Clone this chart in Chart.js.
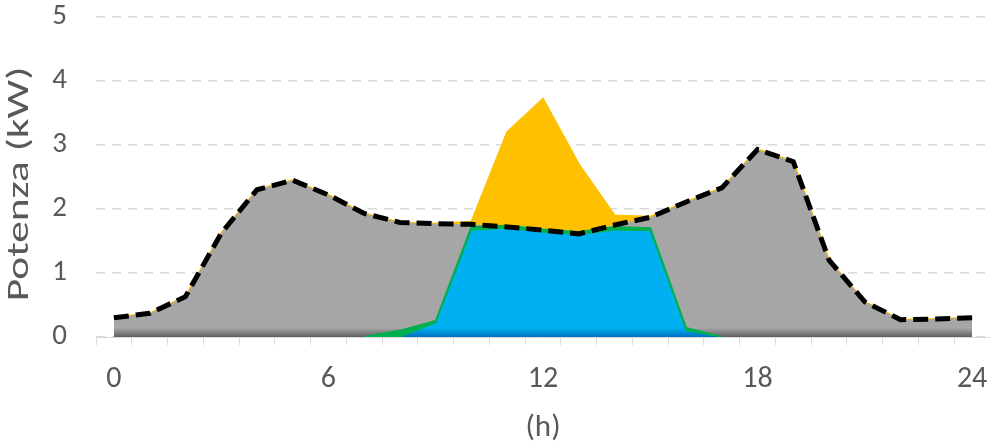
<!DOCTYPE html>
<html>
<head>
<meta charset="utf-8">
<script src="https://cdn.jsdelivr.net/npm/chart.js@4/dist/chart.umd.min.js"></script>
<style>
  html, body { margin: 0; padding: 0; background: #fff; }
  #wrap { width: 990px; height: 442px; }
</style>
</head>
<body>
<div id="wrap"><canvas id="powerChart" width="990" height="442"></canvas></div>
<script>
// Ore del giorno e curve di potenza (kW)
const hours = ['0','1','2','3','4','5','6','7','8','9','10','11','12','13','14','15','16','17','18','19','20','21','22','23','24'];
const load = [0.3, 0.37, 0.63, 1.62, 2.3, 2.45, 2.22, 1.93, 1.79, 1.77, 1.76, 1.72, 1.67, 1.61, 1.75, 1.87, 2.11, 2.33, 2.93, 2.74, 1.2, 0.55, 0.27, 0.28, 0.3];
const pvExcess = [0.3, 0.37, 0.63, 1.62, 2.3, 2.45, 2.22, 1.93, 1.79, 1.77, 1.8, 3.2, 3.72, 2.7, 1.9, 1.88, 2.11, 2.33, 2.93, 2.74, 1.2, 0.55, 0.27, 0.28, 0.3];
const pvEdge = [null, null, null, null, null, null, null, 0, 0.1, 0.25, 1.72, 1.74, 1.68, 1.64, 1.72, 1.7, 0.14, 0, null, null, null, null, null, null, null];
const selfUse = [null, null, null, null, null, null, null, null, 0, 0.22, 1.67, 1.7, 1.64, 1.6, 1.67, 1.66, 0.1, 0, null, null, null, null, null, null, null];
const yTicks = [0, 1, 2, 3, 4, 5];
const yTitle = 'Potenza (kW)';
const xTitle = '(h)';

const textColor = '#595959';
const fontFamily = "Calibri, Carlito, Lato, sans-serif";

function bottomShade(top, dark) {
  return (context) => {
    const area = context.chart.chartArea;
    if (!area) return top;
    const g = context.chart.ctx.createLinearGradient(0, area.bottom - 9, 0, area.bottom);
    g.addColorStop(0, top);
    g.addColorStop(1, dark);
    return g;
  };
}

// titolo asse Y un po' allungato come nell'originale
const yTitlePlugin = {
  id: 'yTitle',
  afterDraw(chart) {
    const { ctx, chartArea } = chart;
    ctx.save();
    ctx.translate(20, (chartArea.top + chartArea.bottom) / 2 + 7);
    ctx.rotate(-Math.PI / 2);
    ctx.scale(1.4, 1);
    ctx.font = `31px ${fontFamily}`;
    ctx.fillStyle = textColor;
    ctx.textAlign = 'center';
    ctx.textBaseline = 'middle';
    ctx.fillText(yTitle, 0, 0);
    ctx.restore();
  }
};

new Chart(document.getElementById('powerChart'), {
  type: 'line',
  data: {
    labels: hours,
    datasets: [
      {
        label: 'Carico',
        data: load,
        borderColor: '#000000',
        borderWidth: 5,
        borderDash: [15, 7],
        pointRadius: 0,
        fill: false,
        tension: 0,
      },
      {
        label: 'Autoconsumo',
        data: selfUse,
        borderColor: '#00b050',
        borderWidth: 1,
        backgroundColor: bottomShade('#00b0f0', '#0070c0'),
        pointRadius: 0,
        fill: 'origin',
        tension: 0,
      },
      {
        label: 'FV',
        data: pvEdge,
        borderColor: '#00b050',
        borderWidth: 2,
        backgroundColor: '#00b050',
        pointRadius: 0,
        fill: 'origin',
        tension: 0,
      },
      {
        label: 'Prelievo',
        data: load,
        borderWidth: 0,
        backgroundColor: bottomShade('#a6a6a6', '#5f5f5f'),
        pointRadius: 0,
        fill: 'origin',
        tension: 0,
      },
      {
        label: 'Immissione',
        data: pvExcess,
        borderColor: '#ffc000',
        borderWidth: 2,
        backgroundColor: '#ffc000',
        pointRadius: 0,
        fill: 'origin',
        tension: 0,
      },
    ]
  },
  options: {
    responsive: false,
    animation: false,
    layout: { padding: 0 },
    plugins: { legend: { display: false }, tooltip: { enabled: false } },
    scales: {
      x: {
        type: 'category',
        offset: true,
        grid: { offset: true, drawOnChartArea: false, drawTicks: true, tickLength: 8, tickColor: '#d9d9d9' },
        border: { display: true, color: '#d9d9d9', width: 1 },
        ticks: {
          autoSkip: false,
          maxRotation: 0,
          padding: 16,
          color: textColor,
          font: { family: fontFamily, size: 30 },
          callback(value, index) {
            return index % 6 === 0 ? hours[index] : '';
          }
        },
        title: { display: true, text: xTitle, color: textColor, font: { family: fontFamily, size: 31 }, padding: { top: 0, bottom: -5 } },
        afterFit(scale) {
          scale.height = 105;
          scale.paddingLeft = 0;
          scale.paddingRight = 0;
        }
      },
      y: {
        min: 0,
        max: 5,
        afterBuildTicks(scale) { scale.ticks = yTicks.map((v) => ({ value: v })); },
        grid: { color: '#d9d9d9', lineWidth: 1.5, drawTicks: false },
        border: { display: false, dash: [9, 7] },
        ticks: { padding: 29, color: textColor, font: { family: fontFamily, size: 29 } },
        title: { display: false },
        afterFit(scale) {
          scale.width = 96;
          scale.paddingTop = 17;
          scale.paddingBottom = 0;
        }
      }
    }
  },
  plugins: [yTitlePlugin]
});
</script>
</body>
</html>
